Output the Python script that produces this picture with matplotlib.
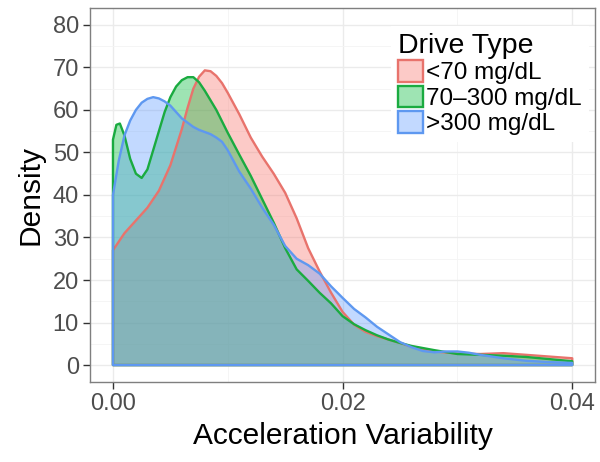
import matplotlib
matplotlib.use("Agg")
import matplotlib.pyplot as plt
from matplotlib.patches import Patch
import numpy as np

plt.rcParams['font.family'] = ['Liberation Sans', 'DejaVu Sans']

# density curves
x_low = [0, 0.001, 0.002, 0.003, 0.004, 0.005, 0.006, 0.0065, 0.007, 0.0075, 0.008, 0.0085,
         0.009, 0.0095, 0.010, 0.011, 0.012, 0.013, 0.014, 0.015, 0.016, 0.017, 0.018, 0.019,
         0.020, 0.021, 0.022, 0.023, 0.024, 0.025, 0.026, 0.028, 0.030, 0.032, 0.034,
         0.036, 0.038, 0.040]
y_low = [27, 31, 34, 37, 41, 47, 55.5, 60.5, 65, 67.8, 69.3, 69.1,
         68.0, 66.3, 64, 59, 53.5, 49, 45, 40.5, 34.5, 27.5, 22, 17,
         12.5, 9.5, 7.8, 6.8, 6.0, 5.2, 4.3, 3.2, 2.7, 2.6, 2.8,
         2.4, 2.0, 1.6]

x_mid = [0, 0.0003, 0.0006, 0.001, 0.0015, 0.002, 0.0025, 0.003, 0.0035, 0.004, 0.0045,
         0.005, 0.0055, 0.006, 0.0065, 0.007, 0.0075, 0.008, 0.009, 0.010, 0.011, 0.012,
         0.013, 0.014, 0.015, 0.016, 0.017, 0.018, 0.019, 0.020, 0.021, 0.022, 0.023,
         0.024, 0.025, 0.026, 0.027, 0.028, 0.030, 0.032, 0.034, 0.036, 0.038, 0.040]
y_mid = [53, 56.5, 56.8, 54, 48.5, 45, 44, 46, 50.5, 55, 59.5,
         63, 65.5, 67, 67.7, 67.7, 66.5, 64.5, 60, 54.6, 49.5, 44.5,
         39, 33.5, 27.5, 22.5, 19.8, 17, 14.5, 11.5, 9.6, 8.2, 7.0,
         6.0, 5.2, 4.5, 4.0, 3.5, 2.6, 2.4, 2.2, 1.9, 1.4, 0.9]

x_high = [0, 0.0005, 0.001, 0.0015, 0.002, 0.0025, 0.003, 0.0035, 0.004, 0.0045, 0.005,
          0.0055, 0.006, 0.0065, 0.007, 0.0075, 0.008, 0.0085, 0.009, 0.0095, 0.010,
          0.0105, 0.011, 0.012, 0.013, 0.014, 0.015, 0.016, 0.017, 0.018, 0.019, 0.020,
          0.021, 0.022, 0.023, 0.024, 0.025, 0.026, 0.027, 0.028, 0.029, 0.030, 0.031,
          0.032, 0.034, 0.036, 0.038, 0.040]
y_high = [40, 48, 54, 57.5, 60, 61.7, 62.6, 63, 62.7, 62, 61,
          59.5, 58, 57, 56, 55.3, 54.8, 54.3, 53.5, 52.5, 50.5,
          48, 45.5, 41.5, 37, 33, 28, 25, 23.5, 21.5, 18.5, 15.8,
          13.2, 11.2, 9.0, 7.2, 5.4, 4.2, 3.3, 3.0, 3.2, 3.2, 2.9,
          2.4, 1.6, 1.0, 0.7, 0.5]

labels = ["<70 mg/dL", "70\u2013300 mg/dL", ">300 mg/dL"]
fills = ["#F8766D", "#00BA38", "#619CFF"]
edges = ["#E8736C", "#1AAB40", "#5E98F0"]

fig = plt.figure(figsize=(6, 4.62), dpi=100)
ax = fig.add_axes([0.15, 0.173, 0.842, 0.81])

series = [(x_low, y_low), (x_mid, y_mid), (x_high, y_high)]
for (xs, ys), fc, ec in zip(series, fills, edges):
    xs = np.array(xs)
    ys = np.array(ys)
    px = np.r_[xs[0], xs, xs[-1]]
    py = np.r_[0, ys, 0]
    ax.fill(px, py, facecolor=fc, alpha=0.38, edgecolor="none", zorder=2)
    ax.fill(px, py, facecolor="none", edgecolor=ec, linewidth=1.7,
            joinstyle="round", zorder=3)

ax.set_xlim(-0.002, 0.042)
ax.set_ylim(-4, 84)
ax.set_xticks([0, 0.02, 0.04])
ax.set_xticklabels(["0.00", "0.02", "0.04"])
ax.set_xticks([0.01, 0.03], minor=True)
ax.set_yticks(np.arange(0, 90, 10))
ax.set_yticks(np.arange(5, 85, 10), minor=True)

ax.grid(True, which="major", color="#EBEBEB", linewidth=1.0, zorder=0)
ax.grid(True, which="minor", color="#F4F4F4", linewidth=0.6, zorder=0)
ax.set_axisbelow(True)
ax.tick_params(which="minor", length=0)
ax.tick_params(which="major", length=5, width=1, color="#333333",
               labelsize=17, labelcolor="#4D4D4D", pad=3)
for s in ax.spines.values():
    s.set_color("#7F7F7F")
    s.set_linewidth(1.0)

ax.set_xlabel("Acceleration Variability", fontsize=21.5, labelpad=5)
ax.set_ylabel("Density", fontsize=21.5, labelpad=6)

handles = [Patch(facecolor=matplotlib.colors.to_rgba(fc, 0.38), edgecolor=ec, linewidth=1.7)
           for fc, ec in zip(fills, edges)]
leg = ax.legend(handles, labels, title="Drive Type", loc="upper left",
                bbox_to_anchor=(0.572, 0.985), fontsize=17.5, title_fontsize=20.5,
                handlelength=1.0, handleheight=1.0, handletextpad=0.15,
                labelspacing=0.05, borderpad=0.3, frameon=True, fancybox=False,
                alignment="left")
leg.get_frame().set_facecolor("white")
leg.get_frame().set_edgecolor("none")
leg.get_frame().set_alpha(1)

fig.savefig("out.png", dpi=100)
